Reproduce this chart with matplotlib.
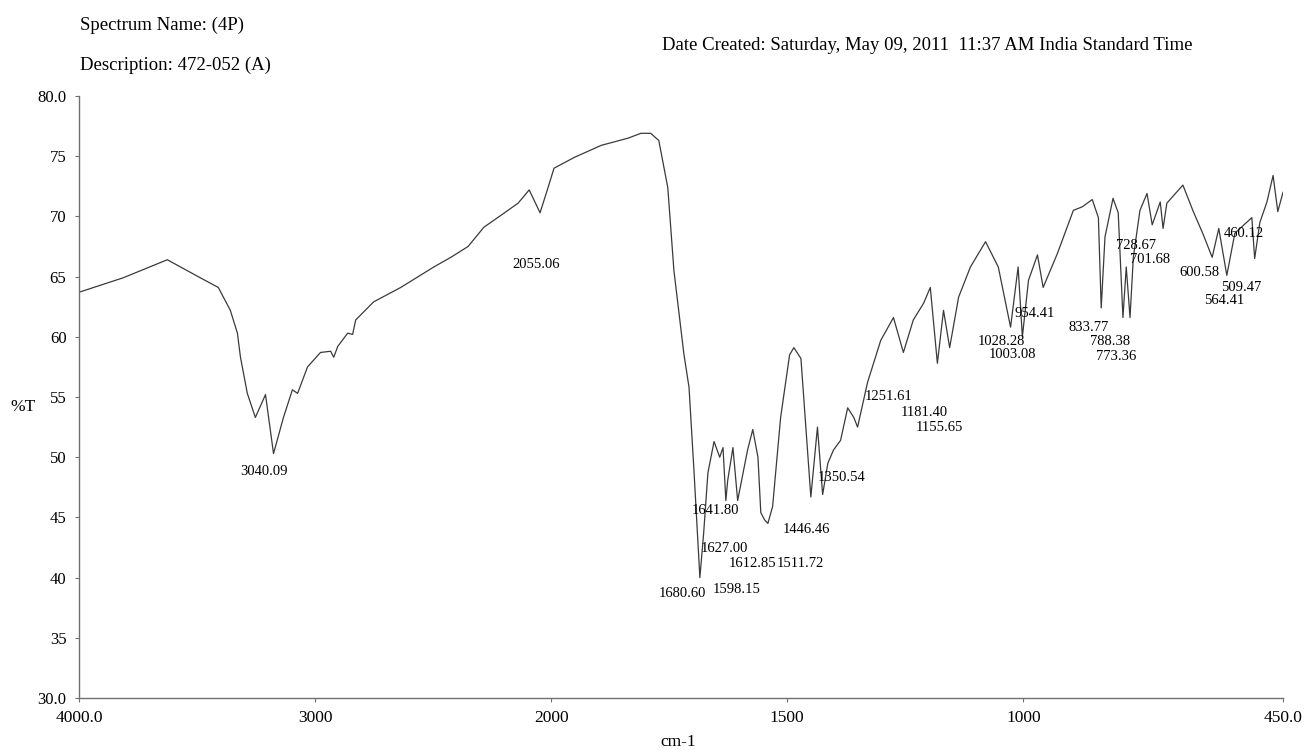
import numpy as np
import matplotlib
matplotlib.use("Agg")
import matplotlib.pyplot as plt

plt.rcParams['font.family'] = ['Liberation Serif', 'DejaVu Serif']

# spectrum (wavenumber cm-1, %T)
wavenumber = [4000, 3813, 3626, 3486, 3410, 3359, 3329, 3316, 3287, 3253, 3210, 3176,
              3134, 3096, 3074, 3032, 2977, 2934, 2921, 2904, 2862, 2841, 2828, 2752,
              2637, 2497, 2425, 2352, 2285, 2212, 2140, 2093, 2047, 2013, 1994, 1951,
              1894, 1837, 1810, 1789, 1772, 1753, 1740, 1719, 1708, 1698, 1685, 1677,
              1668, 1655, 1643, 1636, 1630, 1626, 1615, 1605, 1584, 1573, 1562, 1556,
              1548, 1541, 1531, 1514, 1495, 1486, 1471, 1457, 1450, 1436, 1425, 1414,
              1402, 1387, 1372, 1359, 1351, 1330, 1302, 1275, 1254, 1233, 1211, 1197,
              1182, 1169, 1156, 1137, 1112, 1080, 1053, 1027, 1011, 1002, 989, 970,
              958, 928, 894, 875, 854, 841, 835, 827, 810, 799, 789, 782, 774, 767,
              753, 738, 727, 710, 704, 696, 662, 641, 619, 600, 586, 569, 552, 516,
              510, 499, 484, 471, 461, 450]
transmittance = [63.7, 64.9, 66.4, 64.9, 64.1, 62.2, 60.3, 58.3, 55.3, 53.3, 55.2, 50.3,
                 53.3, 55.6, 55.3, 57.5, 58.7, 58.8, 58.3, 59.2, 60.3, 60.2, 61.4, 62.9,
                 64.1, 65.8, 66.6, 67.5, 69.1, 70.1, 71.1, 72.2, 70.3, 72.4, 74.0, 74.9,
                 75.9, 76.5, 76.9, 76.9, 76.3, 72.4, 65.5, 58.6, 55.8, 49.2, 40.0, 43.7,
                 48.7, 51.3, 50.0, 50.8, 46.4, 48.1, 50.8, 46.4, 50.6, 52.3, 50.0, 45.4,
                 44.8, 44.5, 45.9, 53.3, 58.5, 59.1, 58.2, 50.6, 46.7, 52.5, 46.9, 49.5,
                 50.6, 51.4, 54.1, 53.3, 52.5, 56.2, 59.7, 61.6, 58.7, 61.4, 62.8, 64.1,
                 57.8, 62.2, 59.1, 63.3, 65.8, 67.9, 65.8, 60.8, 65.8, 60.0, 64.7, 66.8,
                 64.1, 66.9, 70.5, 70.8, 71.4, 69.9, 62.4, 68.3, 71.5, 70.3, 61.6, 65.8,
                 61.6, 66.6, 70.5, 71.9, 69.3, 71.2, 69.0, 71.1, 72.6, 70.5, 68.5, 66.6,
                 69.0, 65.1, 68.6, 69.9, 66.5, 69.5, 71.2, 73.4, 70.4, 72.0]

# peak labels: text, wavenumber position, %T position
peak_text = ["3040.09", "2055.06", "1641.80", "1627.00", "1612.85", "1511.72",
             "1680.60", "1598.15", "1446.46", "1350.54", "1251.61", "1181.40",
             "1155.65", "1028.28", "1003.08", "954.41", "833.77", "788.38",
             "773.36", "728.67", "701.68", "600.58", "509.47", "564.41", "460.12"]
peak_x = [3215, 2062, 1652, 1634, 1574, 1472, 1722, 1608, 1460, 1385, 1285, 1210,
          1178, 1047, 1024, 975, 862, 817, 803, 761, 732, 627, 539, 574, 532]
peak_y = [48.8, 66.0, 45.6, 42.4, 41.2, 41.2, 38.7, 39.0, 44.0, 48.3, 55.0, 53.7,
          52.5, 59.6, 58.5, 61.9, 60.8, 59.6, 58.4, 67.6, 66.4, 65.3, 64.1, 63.0, 68.6]

tick_pos = [4000, 3000, 2000, 1500, 1000, 450]
tick_lab = ["4000.0", "3000", "2000", "1500", "1000", "450.0"]
ytick_pos = [30, 35, 40, 45, 50, 55, 60, 65, 70, 75, 80]
ytick_lab = ["30.0", "35", "40", "45", "50", "55", "60", "65", "70", "75", "80.0"]


# below 2000 cm-1 the instrument plots at double scale
def fwd(x):
    x = np.asarray(x, dtype=float)
    return np.where(x >= 2000, x, 2 * x - 2000)


def inv(u):
    u = np.asarray(u, dtype=float)
    return np.where(u >= 2000, u, (u + 2000) / 2)


fig = plt.figure(figsize=(13.04, 7.5), dpi=100)
ax = fig.add_axes([79 / 1304, 1 - 698 / 750, (1283 - 79) / 1304, (698 - 96) / 750])
ax.set_xscale('function', functions=(fwd, inv))
ax.plot(wavenumber, transmittance, color='#3a3a3a', lw=0.9)
ax.set_xlim(4000, 450)
ax.set_ylim(30, 80)

for s in ['top', 'right']:
    ax.spines[s].set_visible(False)
for s in ['left', 'bottom']:
    ax.spines[s].set_color('#707070')
    ax.spines[s].set_linewidth(1.0)

ax.set_xticks(tick_pos)
ax.set_xticklabels(tick_lab, fontsize=12.5, color='black')
ax.set_xticks([], minor=True)
ax.set_yticks(ytick_pos)
ax.set_yticklabels(ytick_lab, fontsize=12, color='black')
ax.tick_params(axis='both', length=3, width=0.8, color='#707070', pad=6)

for t, x, y in zip(peak_text, peak_x, peak_y):
    ax.text(x, y, t, fontsize=10.5, ha='center', va='center', color='black')

fig.text(23 / 1304, 1 - 407 / 750, "%T", fontsize=12.5, ha='center', va='center')
fig.text(678 / 1304, 1 - 742 / 750, "cm-1", fontsize=12.5, ha='center', va='center')

fig.text(80 / 1304, 1 - 25 / 750, "Spectrum Name: (4P)", fontsize=13.5, ha='left', va='center')
fig.text(80 / 1304, 1 - 65 / 750, "Description: 472-052 (A)", fontsize=13.5, ha='left', va='center')
fig.text(1193 / 1304, 1 - 45 / 750,
         "Date Created: Saturday, May 09, 2011  11:37 AM India Standard Time",
         fontsize=13.5, ha='right', va='center')

fig.savefig("out.png", dpi=100)
